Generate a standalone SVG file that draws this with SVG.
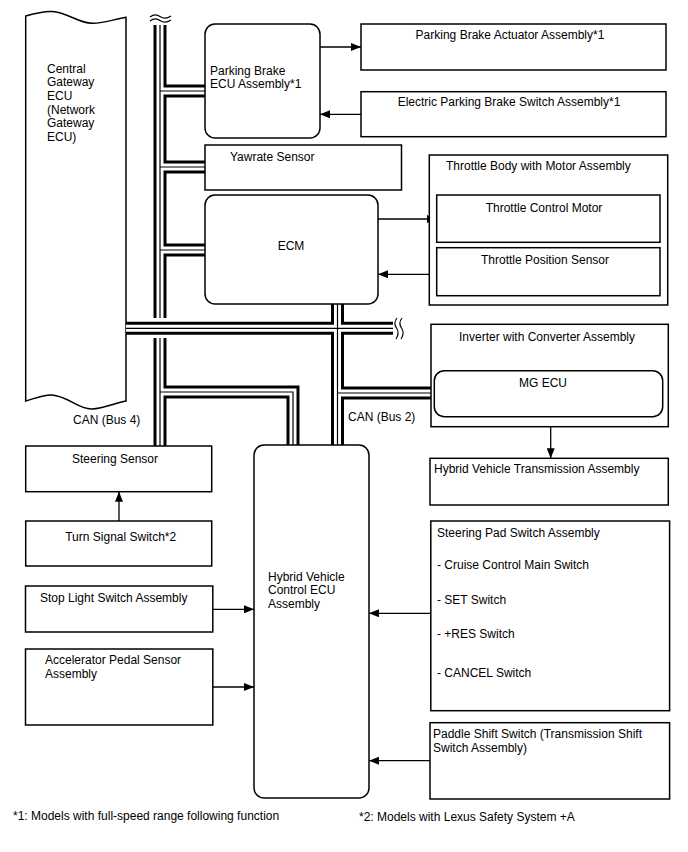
<svg xmlns="http://www.w3.org/2000/svg" width="688" height="852" viewBox="0 0 688 852">
<defs>
<marker id="ah" markerWidth="10" markerHeight="8" refX="10" refY="4" orient="auto" markerUnits="userSpaceOnUse">
<path d="M0,0 L10,4 L0,8 Z" fill="#000"/>
</marker>
<style>
text{font-family:"Liberation Sans",Arial,sans-serif;font-size:12px;fill:#000}
.c{text-anchor:middle}
.box{fill:#fff;stroke:#000;stroke-width:1.5}
.bo{fill:none;stroke:#000;stroke-width:13;stroke-linejoin:miter;stroke-linecap:butt}
.bw{fill:none;stroke:#fff;stroke-width:7;stroke-linejoin:miter;stroke-linecap:butt}
.bt{fill:none;stroke:#000;stroke-width:1.2;stroke-linejoin:miter;stroke-linecap:butt}
.arr{fill:none;stroke:#000;stroke-width:1.3;marker-end:url(#ah)}
.brk{fill:none;stroke:#000;stroke-width:1.2}
</style>
</defs>
<rect width="688" height="852" fill="#fff"/>

<g id="gateway">
<path class="box" d="M25.7,16 C36,13 44,11 52,11.5 C68,12.5 78,23 92,23.3 C104,23.5 115,19 126,17.3 V401 C115,403 104,408.5 92,409 C78,409.5 68,396 52,395 C44,394.5 36,398 25.7,401 Z"/>
<text x="47" y="72.5">Central</text>
<text x="47" y="86.2">Gateway</text>
<text x="47" y="99.9">ECU</text>
<text x="47" y="113.6">(Network</text>
<text x="47" y="127.3">Gateway</text>
<text x="47" y="141">ECU)</text>
</g>

<g id="connectors">
<!-- CAN bus outer black -->
<path class="bo" d="M160,25 V318 M160,91 H205 M160,167 H205 M160,250 H205"/>
<path class="bo" d="M160,338 V446 M160,392 H293 V445"/>
<path class="bo" d="M126,328.3 H393 M337.5,304 V445 M337.5,393 H434.5"/>
<!-- white channel -->
<path class="bw" d="M160,25 V318 M160,91 H205 M160,167 H205 M160,250 H205"/>
<path class="bw" d="M160,338 V446 M160,392 H293 V445"/>
<path class="bw" d="M126,328.3 H393 M337.5,304 V445 M337.5,393 H434.5"/>
<!-- thin centre -->
<path class="bt" d="M160,25 V318 M160,91 H205 M160,167 H205 M160,250 H205"/>
<path class="bt" d="M160,338 V446 M160,392 H293 V445"/>
<path class="bt" d="M126,328.3 H393 M337.5,304 V445 M337.5,393 H434.5"/>
<!-- break marks -->
<path class="brk" d="M150,17 Q155,13 160,16.5 T171,16"/>
<path class="brk" d="M150,21 Q155,17 160,20.5 T171,20"/>
<path class="brk" d="M397,318 Q393,323 396.5,328 T396,339"/>
<path class="brk" d="M402,318 Q398,323 401.5,328 T401,339"/>
<!-- signal arrows -->
<path class="arr" d="M320,47 H361"/>
<path class="arr" d="M361,114.3 H320"/>
<path class="arr" d="M378,219 H437"/>
<path class="arr" d="M437,274.3 H378"/>
<path class="arr" d="M550.7,416.7 V458.3"/>
<path class="arr" d="M119,521 V491.7"/>
<path class="arr" d="M212.8,609.3 H254"/>
<path class="arr" d="M212.8,687 H254"/>
<path class="arr" d="M430.8,613.3 H369"/>
<path class="arr" d="M430,760.7 H369"/>
</g>

<g id="parking-ecu">
<rect class="box" x="205" y="24" width="115" height="114" rx="10"/>
<text x="210" y="74.5">Parking Brake</text>
<text x="210" y="88">ECU Assembly*1</text>
</g>
<g id="pb-actuator">
<rect class="box" x="361" y="24" width="305" height="46"/>
<text class="c" x="510" y="39">Parking Brake Actuator Assembly*1</text>
</g>
<g id="epb-switch">
<rect class="box" x="361" y="91.7" width="305" height="45"/>
<text class="c" x="509" y="106">Electric Parking Brake Switch Assembly*1</text>
</g>
<g id="yawrate">
<rect class="box" x="205" y="145" width="196.5" height="45"/>
<text x="230" y="161">Yawrate Sensor</text>
</g>
<g id="ecm">
<rect class="box" x="205" y="195" width="173" height="109" rx="10"/>
<text class="c" x="291" y="250">ECM</text>
</g>
<g id="throttle-body">
<rect class="box" x="429.3" y="155" width="238.4" height="150"/>
<text x="446" y="170">Throttle Body with Motor Assembly</text>
</g>
<g id="throttle-motor">
<rect class="box" x="436.7" y="195" width="223.3" height="47.3"/>
<text class="c" x="544" y="212">Throttle Control Motor</text>
</g>
<g id="throttle-sensor">
<rect class="box" x="436.7" y="247.7" width="223.3" height="48"/>
<text class="c" x="545" y="264">Throttle Position Sensor</text>
</g>
<g id="inverter">
<rect class="box" x="431" y="324.3" width="237.3" height="102.4"/>
<text class="c" x="547" y="341">Inverter with Converter Assembly</text>
</g>
<g id="mg-ecu">
<rect class="box" x="434.3" y="370.7" width="228.4" height="46" rx="10"/>
<text class="c" x="543" y="387">MG ECU</text>
</g>
<g id="hv-transmission">
<rect class="box" x="430" y="458.3" width="238.3" height="46.7"/>
<text x="434" y="473">Hybrid Vehicle Transmission Assembly</text>
</g>
<g id="labels">
<text x="73" y="424">CAN (Bus 4)</text>
<text x="348" y="421">CAN (Bus 2)</text>
</g>
<g id="steering-sensor">
<rect class="box" x="25.7" y="446" width="186" height="45.7"/>
<text class="c" x="115" y="463">Steering Sensor</text>
</g>
<g id="turn-signal">
<rect class="box" x="25.7" y="521" width="186" height="45"/>
<text class="c" x="120.7" y="541">Turn Signal Switch*2</text>
</g>
<g id="stop-light">
<rect class="box" x="25.5" y="586" width="187.3" height="46"/>
<text x="40" y="602">Stop Light Switch Assembly</text>
</g>
<g id="accelerator">
<rect class="box" x="25.5" y="649" width="187.3" height="76"/>
<text x="45" y="664">Accelerator Pedal Sensor</text>
<text x="45" y="678">Assembly</text>
</g>
<g id="hv-ecu">
<rect class="box" x="254" y="445" width="115" height="353" rx="10"/>
<text x="268" y="581">Hybrid Vehicle</text>
<text x="268" y="594">Control ECU</text>
<text x="268" y="608">Assembly</text>
</g>
<g id="steering-pad">
<rect class="box" x="430.8" y="521" width="238.8" height="189.7"/>
<text x="437" y="537">Steering Pad Switch Assembly</text>
<text x="437" y="569">- Cruise Control Main Switch</text>
<text x="437" y="604">- SET Switch</text>
<text x="437" y="638">- +RES Switch</text>
<text x="437" y="677">- CANCEL Switch</text>
</g>
<g id="paddle-shift">
<rect class="box" x="430" y="722.7" width="239.6" height="76.3"/>
<text x="433" y="738">Paddle Shift Switch (Transmission Shift</text>
<text x="433" y="752">Switch Assembly)</text>
</g>
<g id="footnotes">
<text x="13" y="820">*1: Models with full-speed range following function</text>
<text x="359" y="821">*2: Models with Lexus Safety System +A</text>
</g>
</svg>
